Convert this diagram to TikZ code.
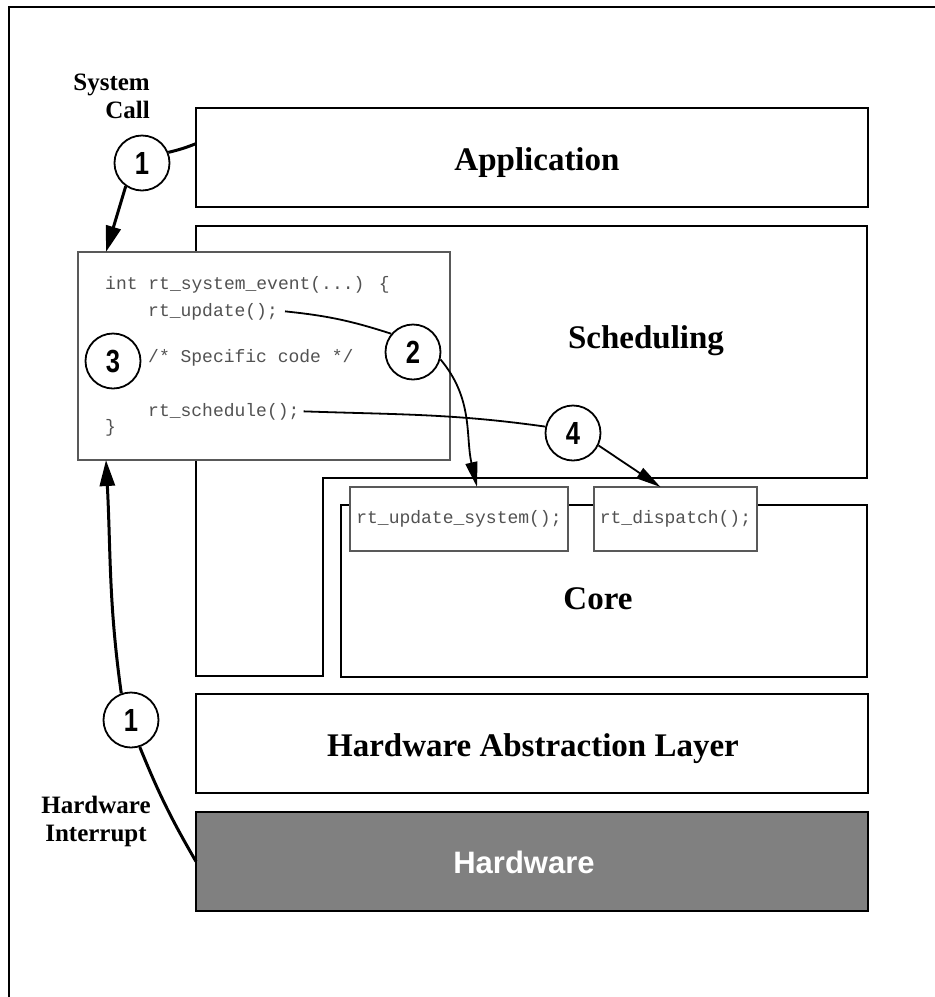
\documentclass[tikz,border=0pt]{standalone}
\usepackage{fontspec}
\setmainfont{Liberation Serif}
\newfontfamily\codefont{Liberation Mono}
\newfontfamily\numfont[FakeStretch=0.8]{Liberation Sans}
\newfontfamily\hwfont{Liberation Sans}
\usetikzlibrary{arrows.meta,calc}

\begin{document}
\begin{tikzpicture}[x=1pt,y=-1pt,
  layer/.style={draw=black, line width=1.8pt, fill=white, inner sep=0pt, outer sep=0pt, anchor=north west},
  codebox/.style={draw=black!65, line width=1.2pt, fill=white, inner sep=0pt, outer sep=0pt, anchor=north west},
  title/.style={font=\bfseries\fontsize{33}{40}\selectfont, anchor=base, inner sep=0pt},
  codeline/.style={font=\codefont\fontsize{18}{22}\selectfont, text=black!68, anchor=base west, inner sep=0pt},
  stepnum/.style={circle, draw, line width=1.8pt, fill=white, minimum size=55pt, inner sep=0pt,
    font=\numfont\bfseries\fontsize{32}{34}\selectfont},
  sidenote/.style={font=\bfseries\fontsize{25}{28}\selectfont, inner sep=0pt, align=center},
  heavy/.style={line width=3pt},
  heavyflow/.style={heavy, -{Triangle[length=26pt,width=15pt]}},
  light/.style={line width=1.8pt},
  lightflow/.style={light, -{Triangle[length=25pt,width=12pt]}},
]
\useasboundingbox (0,0) rectangle (935,997);

% outer frame (only its top and left sides fall inside the page)
\draw[line width=1.8pt] (935,7) -- (9,7) -- (9,997);

% layers
\node[layer, minimum width=672pt, minimum height=99pt] (app) at (196,108) {};
\draw[line width=1.8pt] (196,226) -- (867,226) -- (867,478) -- (323,478)
  -- (323,676) -- (196,676) -- cycle;
\node[layer, minimum width=526pt, minimum height=172pt] (core) at (341,505) {};
\node[layer, minimum width=672pt, minimum height=99pt] (hal) at (196,694) {};
\node[layer, fill=black!50, minimum width=672pt, minimum height=99pt] (hw) at (196,812) {};

\node[title] (appl) at (537,170) {Application};
\node[title] (schedl) at (646,348) {Scheduling};
\node[title] (corel) at (598,609) {Core};
\node[title] (hall) at (533,756) {Hardware Abstraction Layer};
\node[anchor=base, inner sep=0pt, text=white, font=\hwfont\bfseries\fontsize{31}{36}\selectfont]
  (hwl) at (524,873) {Hardware};

% core entry points
\node[codebox, minimum width=218pt, minimum height=64pt] (upd) at (350,487) {};
\node[codeline, anchor=center] (updl) at (upd.center) {rt\_update\_system();};
\node[codebox, minimum width=163pt, minimum height=64pt] (disp) at (594,487) {};
\node[codeline, anchor=center] (displ) at (disp.center) {rt\_dispatch();};

% system event handler
\node[codebox, minimum width=372pt, minimum height=208pt] (code) at (78,252) {};
\node[codeline] (l1) at (105,289) {int rt\_system\_event(...) \{};
\node[codeline] (l2) at (148,316) {rt\_update();};
\node[codeline] (l3) at (148,362) {/* Specific code */};
\node[codeline] (l4) at (148,416) {rt\_schedule();};
\node[codeline] (l5) at (105,432) {\}};

% side notes
\node[sidenote, anchor=north east, align=right] (sys) at (150,74) {System\\Call};
\node[sidenote, anchor=north] (irq) at (96,796) {Hardware\\Interrupt};

% numbered steps
\node[stepnum] (c1a) at (142,163) {1};
\node[stepnum] (c3) at (113,361) {3};
\node[stepnum] (c2) at (413,352) {2};
\node[stepnum] (c4) at (573,433) {4};
\node[stepnum] (c1b) at (131,720) {1};

% flows
\draw[heavy] ($(app.north west)!0.36!(app.south west)$) to[bend left=4] (c1a.22);
\draw[heavyflow] (c1a.-125) -- ([xshift=28pt]code.north west);
\draw[heavy] (hw.west) to[bend left=4] (c1b.-72);
\draw[heavyflow] (c1b.110) to[out=98, in=-87] ([xshift=28pt]code.south west);
\draw[light] ([xshift=7pt]l2.east) to[bend left=6] (c2.140);
\draw[lightflow] (c2.-15) to[out=-50, in=103] ([xshift=18pt]upd.north);
\draw[light] ([xshift=4pt]l4.east) to[out=-2, in=172] (c4.167);
\draw[lightflow] (c4.-26) -- ([xshift=-15pt]disp.north);
\end{tikzpicture}
\end{document}
